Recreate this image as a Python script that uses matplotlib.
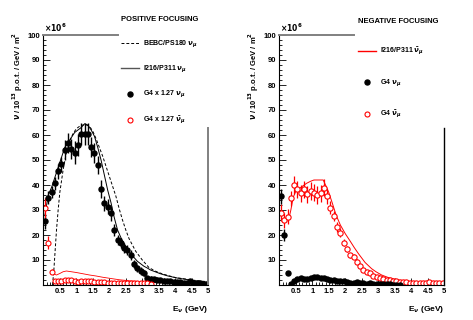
import matplotlib
matplotlib.use("Agg")
import matplotlib.pyplot as plt
from matplotlib.lines import Line2D
from matplotlib.ticker import MultipleLocator, FixedLocator
import numpy as np

plt.rcParams['font.family'] = ['Liberation Sans', 'DejaVu Sans']
plt.rcParams['font.weight'] = 'bold'
plt.rcParams['mathtext.fontset'] = 'dejavusans'

# energy bin centres (GeV), 0.1 GeV bins
bins = np.round(np.arange(0.05, 5.0, 0.1), 2)

# ---- positive focusing ----
pos_g4_numu = [25.6, 35, 37.3, 40.7, 45.6, 48.4, 54, 56.7, 54.3, 53,
               56, 60.4, 60.4, 60.4, 55.3, 52.7, 48, 38.4, 32.7, 31.3,
               28.7, 22, 18, 16.7, 15, 14, 12, 8.4, 6.7, 5.7,
               4.9, 2.7, 2.5, 2.4, 2.2, 2.0, 1.8, 1.6, 1.5, 1.4,
               1.2, 1.1, 1.0, 1.0, 1.6, 0.9, 0.8, 0.7, 0.6, 0.5]
pos_g4_numu_err = [3, 2.5, 2.5, 2.5, 3, 3, 4, 4, 4, 4.5,
                   4.5, 4.5, 4.5, 4.5, 4, 4, 3.5, 3.5, 3, 3,
                   3, 2.5, 2, 2, 2, 2, 2, 1.5, 1.5, 1.5,
                   1.2, 1, 1, 1, 1, 0.9, 0.9, 0.8, 0.8, 0.8,
                   0.7, 0.7, 0.6, 0.6, 0.6, 0.5, 0.5, 0.5, 0.5, 0.5]
pos_g4_anumu = [31, 17, 5.3, 1.6, 1.8, 1.8, 1.9, 2.0, 1.9, 1.8,
                1.4, 1.5, 1.5, 1.6, 1.5, 1.4, 1.4, 1.3, 1.2, 1.0,
                0.8, 0.9, 0.8, 0.9, 0.8, 0.8, 0.9, 0.8, 0.8, 0.7,
                0.8, 0.7, 0.6]
pos_g4_anumu_err = [4, 2.5, 1, 0.4, 0.4, 0.4, 0.4, 0.4, 0.4, 0.4,
                    0.4, 0.4, 0.4, 0.4, 0.4, 0.4, 0.3, 0.3, 0.3, 0.3,
                    0.3, 0.3, 0.3, 0.3, 0.3, 0.3, 0.3, 0.3, 0.3, 0.3,
                    0.3, 0.3, 0.3]
pos_i216_numu = [28, 36, 39, 43, 47, 51, 55, 57, 59, 61,
                 62, 63, 64.5, 64, 62, 59.5, 55, 50, 44, 38,
                 33, 27, 22, 19, 16.5, 14.5, 12.5, 11, 9.5, 8.5,
                 7.5, 6.8, 6, 5.5, 5, 4.5, 4.1, 3.7, 3.4, 3.1,
                 2.8, 2.6, 2.4, 2.2, 2, 1.8, 1.6, 1.5, 1.3, 1.2]
pos_i216_anumu_x = [0.3, 0.4, 0.5, 0.6, 0.7, 0.8, 1.0, 1.2, 1.4, 1.6,
                    1.8, 2.0, 2.3, 2.6, 3.0, 3.4, 3.8, 4.2, 4.6, 5.0]
pos_i216_anumu = [4.5, 4, 4.6, 5.3, 5.6, 5.4, 5, 4.5, 4, 3.6,
                  3.1, 2.7, 2.1, 1.7, 1.3, 1.0, 0.8, 0.6, 0.5, 0.4]
bebc_x = [0.28, 0.32, 0.36, 0.4, 0.45, 0.5, 0.6, 0.7, 0.8, 0.9,
          1.0, 1.1, 1.2, 1.3, 1.4, 1.5, 1.6, 1.7, 1.8, 1.9,
          2.0, 2.1, 2.2, 2.3, 2.4, 2.5, 2.6, 2.8, 3.0, 3.2,
          3.4, 3.6, 3.8, 4.0, 4.25, 4.5, 4.75, 5.0]
bebc_numu = [0, 6, 14, 22, 30, 37, 46, 53, 57.5, 60.5,
             62.5, 63.5, 64, 64, 63.5, 61.5, 58.5, 55, 51.5, 47.5,
             43.5, 39.5, 35.5, 30.5, 26, 22, 18.5, 13.5, 10, 7,
             5.5, 4.5, 3.7, 3, 2.5, 2, 1.6, 1.3]

# ---- negative focusing ----
neg_g4_anumu = [29, 26, 27.3, 34.7, 40, 38.3, 36.7, 38.3, 36.3, 37.7,
                37, 36, 36.7, 39, 35.6, 31, 27.6, 23.3, 21, 17,
                14.3, 12, 11.3, 9.3, 7.6, 6, 5.2, 4.7, 3.8, 3.3,
                3, 2.6, 2.2, 2, 1.8, 1.6, 1.4, 1.2, 1.1, 1.0,
                1.0, 0.9, 0.9, 0.9, 1.0, 1.1, 0.9, 0.9, 1.0, 0.9]
neg_g4_anumu_err = [3.5, 3, 3, 3, 3.5, 3.5, 3.5, 3.5, 3.5, 3.5,
                    3.5, 3.5, 3.5, 3.5, 3, 2.5, 2, 2, 1.8, 1.5,
                    1.2, 1, 1, 1, 0.8, 0.8, 0.7, 0.7, 0.6, 0.6,
                    0.5, 0.5, 0.5, 0.5, 0.5, 0.4, 0.4, 0.4, 0.4, 0.4,
                    0.4, 0.4, 0.4, 0.4, 0.4, 0.4, 0.4, 0.4, 0.4, 0.4]
neg_g4_numu = [35.5, 20, 4.9, 0.4, 1.5, 2.3, 2.8, 2.6, 2.6, 3.0,
               3.2, 3.3, 3.0, 2.7, 2.3, 2.0, 2.0, 1.8, 1.6, 1.8,
               1.4, 1.0, 0.9, 1.3, 1.0, 0.8, 0.6, 0.8, 0.5, 0.4,
               0.4, 0.3, 0.3, 0.3, 0.2, 0.2, 0.2]
neg_g4_numu_err = [3, 2.5, 0.8] + [0.5] * 34
neg_i216_x = [0.27, 0.35, 0.42, 0.5, 0.6, 0.7, 0.83, 0.95, 1.05, 1.13,
              1.25, 1.33, 1.4, 1.5, 1.6, 1.72, 1.85, 2.0, 2.15, 2.27,
              2.4, 2.6, 2.8, 2.93, 3.1, 3.3, 3.5, 3.7, 4.0, 4.5, 5.0]
neg_i216_anumu = [25.3, 30, 35, 37.5, 38.5, 39.5, 40.7, 41.5, 42, 42,
                  42, 42, 40, 37, 33, 28, 24, 20.5, 17.5, 15,
                  12.5, 9, 6.5, 5.3, 4, 3, 2.3, 1.8, 1.3, 0.9, 0.6]

RED = '#ff0000'
W, H = 473, 320
fig = plt.figure(figsize=(W / 100, H / 100), dpi=100)


def style_axes(ax, right_color):
    ax.set_xlim(0, 5)
    ax.set_ylim(0, 100)
    ax.xaxis.set_major_locator(FixedLocator([0.5, 1, 1.5, 2, 2.5, 3, 3.5, 4, 4.5, 5]))
    ax.xaxis.set_minor_locator(MultipleLocator(0.1))
    ax.yaxis.set_major_locator(FixedLocator(range(10, 101, 10)))
    ax.yaxis.set_minor_locator(MultipleLocator(2))
    ax.xaxis.set_major_formatter(plt.FuncFormatter(lambda v, p: f'{v:g}'))
    ax.tick_params(which='both', direction='in', labelsize=5.5, width=0.6, pad=2)
    ax.tick_params(which='major', length=5)
    ax.tick_params(which='minor', length=2.5)
    ax.spines['left'].set_linewidth(0.8)
    ax.spines['bottom'].set_linewidth(0.8)
    ax.spines['top'].set_bounds(0, 2.26)
    ax.spines['top'].set_color('#808080')
    ax.spines['top'].set_linewidth(1.4)
    ax.spines['right'].set_bounds(0, 63)
    ax.spines['right'].set_color(right_color)
    ax.spines['right'].set_linewidth(1.0 if right_color == 'black' else 1.4)
    ax.text(0.005, 1.005, r'$\times10^{6}$', transform=ax.transAxes,
            fontsize=5.5, va='bottom', ha='left', fontweight='normal')
    ax.text(1.0, -0.075, r'E$_{\nu}$ (GeV)', transform=ax.transAxes,
            fontsize=6, ha='right', va='top')


ylabel = r'$\nu$ / 10$^{13}$ p.o.t. / GeV / m$^{2}$'

# left panel
ax1 = fig.add_axes([43.3 / W, 35 / H, 165 / W, 250 / H])
style_axes(ax1, '#808080')
ax1.plot(bebc_x, bebc_numu, color='black', lw=0.7, ls=(0, (3, 2)))
ax1.plot(bins, pos_i216_numu, color='black', lw=0.7)
ax1.plot(pos_i216_anumu_x, pos_i216_anumu, color=RED, lw=0.6)
ax1.errorbar(bins, pos_g4_numu, yerr=pos_g4_numu_err, fmt='o', color='black',
             ms=3.6, elinewidth=1.0, capsize=0)
ax1.errorbar(bins[:len(pos_g4_anumu)], pos_g4_anumu, yerr=pos_g4_anumu_err, fmt='o',
             color=RED, mfc='white', mec=RED, ms=3.6, mew=0.8, elinewidth=0.9, capsize=0)
fig.text(18 / W, 1 - 32 / H, ylabel, rotation=90, ha='center', va='top', fontsize=5.5)

h1 = [Line2D([], [], color='black', lw=0.7, ls=(0, (3, 2))),
      Line2D([], [], color='#555555', lw=1.0),
      Line2D([], [], color='black', marker='o', ls='none', ms=3.6),
      Line2D([], [], color=RED, marker='o', ls='none', ms=3.6, mfc='white', mew=0.8)]
l1 = [r'BEBC/PS180 $\nu_{\mu}$', r'I216/P311 $\nu_{\mu}$',
      r'G4 x 1.27 $\nu_{\mu}$', r'G4 x 1.27 $\bar{\nu}_{\mu}$']
leg1 = ax1.legend(h1, l1, title='POSITIVE FOCUSING', alignment='left',
                  loc='upper left', bbox_to_anchor=(116 / W, 1 - 11 / H),
                  bbox_transform=fig.transFigure, frameon=False, fontsize=5,
                  title_fontproperties={'size': 5.5, 'weight': 'bold'},
                  handlelength=2.6, handletextpad=0.6, labelspacing=2.0,
                  borderpad=0.2)
leg1._legend_box.sep = 11

# right panel
ax2 = fig.add_axes([279.3 / W, 35 / H, 165 / W, 250 / H])
style_axes(ax2, 'black')
ax2.plot(neg_i216_x, neg_i216_anumu, color=RED, lw=0.7)
ax2.errorbar(bins, neg_g4_anumu, yerr=neg_g4_anumu_err, fmt='o', color=RED,
             mfc='white', mec=RED, ms=3.8, mew=0.8, elinewidth=0.9, capsize=0)
ax2.errorbar(bins[:len(neg_g4_numu)], neg_g4_numu, yerr=neg_g4_numu_err, fmt='o',
             color='black', ms=3.6, elinewidth=1.0, capsize=0)
fig.text(254 / W, 1 - 32 / H, ylabel, rotation=90, ha='center', va='top', fontsize=5.5)

h2 = [Line2D([], [], color=RED, lw=1.0),
      Line2D([], [], color='black', marker='o', ls='none', ms=3.6),
      Line2D([], [], color=RED, marker='o', ls='none', ms=3.6, mfc='white', mew=0.8)]
l2 = [r'I216/P311 $\bar{\nu}_{\mu}$', r'G4 $\nu_{\mu}$', r'G4 $\bar{\nu}_{\mu}$']
leg2 = ax2.legend(h2, l2, title='NEGATIVE FOCUSING', alignment='left',
                  loc='upper left', bbox_to_anchor=(353 / W, 1 - 13 / H),
                  bbox_transform=fig.transFigure, frameon=False, fontsize=5,
                  title_fontproperties={'size': 5.5, 'weight': 'bold'},
                  handlelength=2.6, handletextpad=0.6, labelspacing=2.8,
                  borderpad=0.2)
leg2._legend_box.sep = 15

fig.savefig('out.png', dpi=100)
